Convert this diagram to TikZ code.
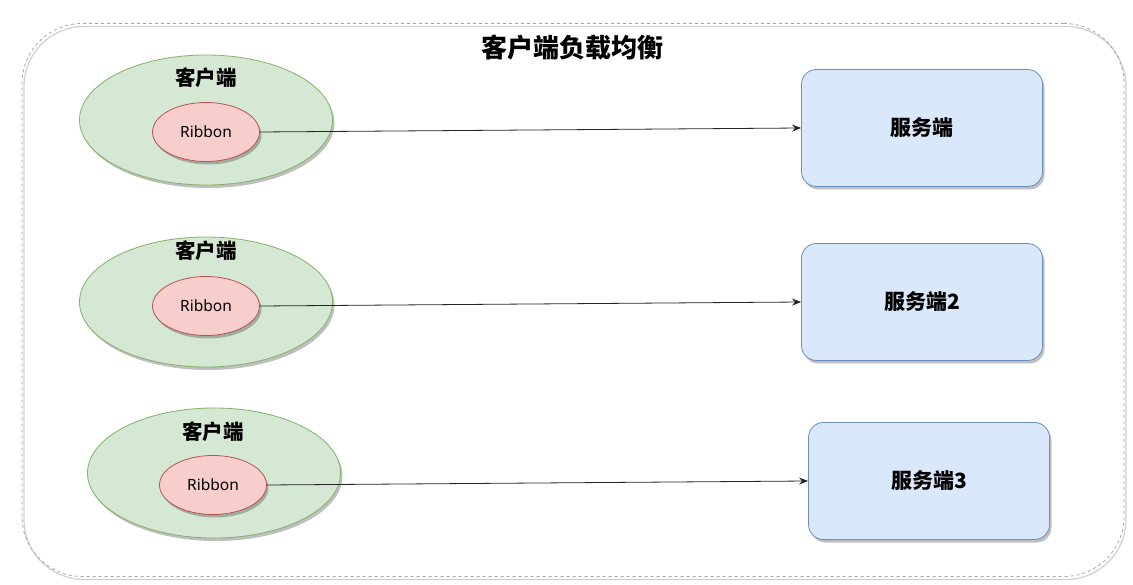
\documentclass[tikz,border=0pt]{standalone}
\usepackage{fontspec}
\setmainfont{Noto Sans}
\newfontfamily\cjk{Noto Sans CJK SC}
\usetikzlibrary{shapes.geometric,shadows,arrows.meta}
\definecolor{gfill}{HTML}{D5E8D4}
\definecolor{gdraw}{HTML}{82B366}
\definecolor{rfill}{HTML}{F8CECC}
\definecolor{rdraw}{HTML}{B85450}
\definecolor{bfill}{HTML}{DAE8FC}
\definecolor{bdraw}{HTML}{6C8EBF}
\tikzset{
  shad/.style={drop shadow={shadow xshift=2pt,shadow yshift=-3pt,opacity=0.25,fill=black}},
  client/.style={ellipse,draw=gdraw,fill=gfill,line width=0.8pt,minimum width=253pt,minimum height=130pt,inner sep=0pt,shad},
  ribbon/.style={ellipse,draw=rdraw,fill=rfill,line width=0.8pt,minimum width=107pt,minimum height=59pt,inner sep=0pt,font=\fontsize{15.5}{18}\selectfont,shad},
  server/.style={rectangle,rounded corners=15pt,draw=bdraw,fill=bfill,line width=0.8pt,minimum width=241pt,minimum height=117pt,inner sep=0pt,font=\cjk\bfseries\fontsize{21}{24}\selectfont,shad},
  clabel/.style={font=\cjk\bfseries\fontsize{20.5}{24}\selectfont,inner sep=0pt},
  conn/.style={-{Stealth[length=9pt,width=7pt]},line width=0.8pt,black!85}
}
\begin{document}
\begin{tikzpicture}[x=1pt,y=-1pt]
\useasboundingbox (0,0) rectangle (1133,585);
\fill[white] (0,0) rectangle (1133,585);
% outer container
\node[draw=black!35,dashed,line width=0.8pt,rounded corners=60pt,minimum width=1102pt,minimum height=553pt,inner sep=0pt,
      drop shadow={shadow xshift=2pt,shadow yshift=-3pt,opacity=0.3,fill=none,draw=black!60,solid,line width=1.2pt}] (box) at (573,300) {};
\node[font=\cjk\bfseries\fontsize{26}{30}\selectfont,inner sep=0pt] (title) at (572,48) {客户端负载均衡};
% row 1
\node[client] (c1) at (206,120) {};
\node[clabel] (l1) at (206,78) {客户端};
\node[ribbon] (r1) at (206,132) {Ribbon};
\node[server] (s1) at (922,128) {服务端};
\draw[conn] (r1.east) -- (s1.west);
% row 2
\node[client] (c2) at (206,302) {};
\node[clabel] (l2) at (206,251) {客户端};
\node[ribbon] (r2) at (206,306) {Ribbon};
\node[server] (s2) at (922,302) {服务端2};
\draw[conn] (r2.east) -- (s2.west);
% row 3
\node[client] (c3) at (214,473) {};
\node[clabel] (l3) at (213,432) {客户端};
\node[ribbon] (r3) at (213,485) {Ribbon};
\node[server] (s3) at (929,481) {服务端3};
\draw[conn] (r3.east) -- (s3.west);
\end{tikzpicture}
\end{document}
